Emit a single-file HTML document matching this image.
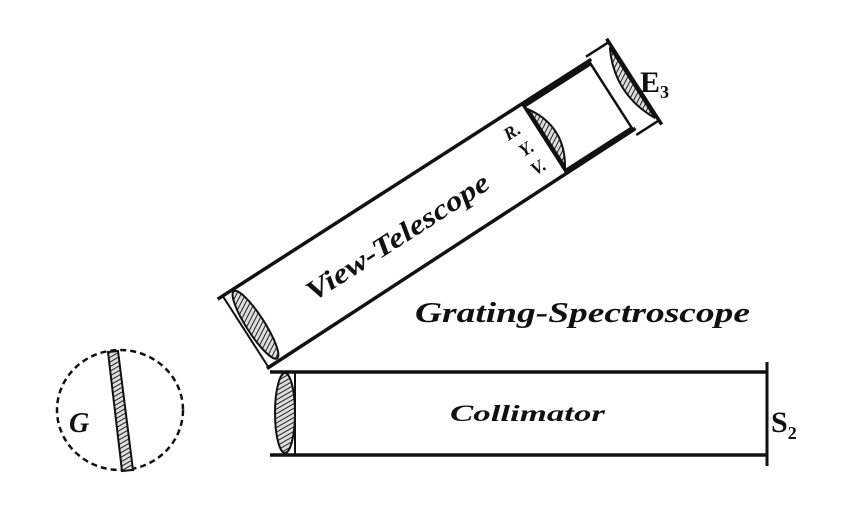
<!DOCTYPE html>
<html><head><meta charset="utf-8"><style>
html,body{margin:0;padding:0;background:#fff;}
svg{display:block;}
text{font-family:"Liberation Serif",serif;font-weight:bold;font-style:italic;fill:#111;}
</style></head><body>
<svg width="853" height="512" viewBox="0 0 853 512" xmlns="http://www.w3.org/2000/svg">
<defs>
<pattern id="h" width="4" height="4" patternUnits="userSpaceOnUse" patternTransform="rotate(60)">
<rect width="4" height="4" fill="#ddd"/><line x1="0" y1="0" x2="0" y2="4" stroke="#222" stroke-width="2"/>
</pattern>
</defs>
<!-- Telescope -->
<g transform="translate(221,297) rotate(-32.7)" stroke="#111" fill="none">
  <line x1="-4" y1="0" x2="440" y2="0" stroke-width="3.5"/>
  <line x1="0" y1="85" x2="440" y2="82" stroke-width="3.5"/>
  <line x1="358" y1="2" x2="438" y2="2" stroke-width="6"/>
  <line x1="358" y1="81" x2="438" y2="81" stroke-width="6"/>
  <line x1="2" y1="0" x2="2" y2="85" stroke-width="2"/>
  <ellipse cx="14" cy="42" rx="9" ry="40" fill="url(#h)" stroke-width="2"/>
  <line x1="358" y1="0" x2="358" y2="84" stroke-width="3"/>
  <path d="M360 8 Q382 42 360 76 Z" fill="url(#h)" stroke-width="2"/>
  <line x1="437" y1="2" x2="437" y2="81" stroke-width="2.5"/>
  <line x1="437" y1="-5" x2="465" y2="-5" stroke-width="2.5"/>
  <line x1="437" y1="88" x2="465" y2="88" stroke-width="2.5"/>
  <line x1="464" y1="-9" x2="464" y2="93" stroke-width="3.5"/>
  <path d="M462 0 Q440 42 462 84 Z" fill="url(#h)" stroke-width="2"/>
  <text x="75" y="54" font-size="28" stroke="none" textLength="212" lengthAdjust="spacingAndGlyphs">View-Telescope</text>
  <g stroke="none" font-size="18">
    <text x="326" y="24">R.</text>
    <text x="330" y="46">Y.</text>
    <text x="330" y="68">V.</text>
  </g>
</g>
<text x="640" y="92" font-size="30" style="font-style:normal">E<tspan font-size="18" dy="6">3</tspan></text>
<text x="415" y="322" font-size="29" textLength="335" lengthAdjust="spacingAndGlyphs">Grating-Spectroscope</text>
<!-- Collimator -->
<g stroke="#111" fill="none">
  <line x1="270" y1="372" x2="768" y2="372" stroke-width="3.5"/>
  <line x1="270" y1="455" x2="768" y2="455" stroke-width="3.5"/>
  <line x1="767" y1="362" x2="767" y2="466" stroke-width="3"/>
  <line x1="295" y1="373" x2="295" y2="454" stroke-width="2"/>
  <ellipse cx="285" cy="413" rx="10" ry="40" fill="url(#h)" stroke-width="2"/>
</g>
<text x="450" y="421" font-size="23" textLength="155" lengthAdjust="spacingAndGlyphs">Collimator</text>
<text x="771" y="432" font-size="30" style="font-style:normal">S<tspan font-size="18" dy="7">2</tspan></text>
<!-- Grating circle -->
<ellipse cx="120" cy="410" rx="63" ry="60" fill="none" stroke="#111" stroke-width="2.5" stroke-dasharray="6,4"/>
<polygon points="108,352 118,351 133,470 122,471" fill="url(#h)" stroke="#111" stroke-width="2"/>
<text x="69" y="432" font-size="28">G</text>
</svg>
</body></html>
